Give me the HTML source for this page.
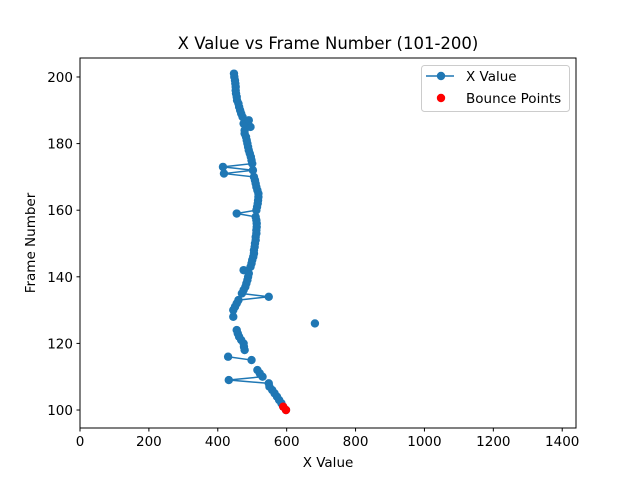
<!DOCTYPE html>
<html><head><meta charset="utf-8"><style>
body{margin:0;background:#fff}
svg text{font-family:"DejaVu Sans","Liberation Sans",sans-serif;fill:#000}
</style></head><body>
<svg width="640" height="480">
<g id="plot"></g>
</svg>
<script>
const frames=[100,101,102,103,104,105,106,107,108,109,110,111,112,113,114,115,116,117,118,119,120,121,122,123,124,125,126,127,128,130,131,132,133,134,135,136,137,138,139,140,141,142,143,144,145,146,147,148,149,150,151,152,153,154,155,156,157,158,159,160,161,162,163,164,165,166,167,168,169,170,171,172,173,174,175,176,177,178,179,180,181,182,183,184,185,186,187,188,189,190,191,192,193,194,195,196,197,198,199,200,201];
const xs=[598,590,585,578,572,565,558,550,548,432,530,522,515,null,null,498,430,null,478,476,475,468,462,458,455,null,682,null,445,445,450,455,460,548,470,475,480,483,486,488,490,475,495,498,500,503,505,505,507,508,510,510,512,512,513,513,512,510,455,512,514,516,517,518,518,515,512,510,508,505,418,502,415,500,498,496,493,490,488,486,484,482,478,478,495,475,490,472,468,465,462,460,456,455,453,452,452,451,450,448,447];
const bounceFrames=[100,101];
const bounceXs=[598,590];
const xTicks=[0,200,400,600,800,1000,1200,1400];
const yTicks=[100,120,140,160,180,200];
const L=80,R=576,T=58,B=428,X0=0,X1=1440,Y0=94.6,Y1=205.7;
const sx=v=>L+(v-X0)/(X1-X0)*(R-L);
const sy=v=>B-(v-Y0)/(Y1-Y0)*(B-T);
const NS="http://www.w3.org/2000/svg";
const g=document.getElementById('plot');
function mk(t,a,txt){const e=document.createElementNS(NS,t);for(const k in a)e.setAttribute(k,a[k]);if(txt!==undefined)e.textContent=txt;g.appendChild(e);return e;}
let d='',pen=false;
frames.forEach((f,i)=>{if(xs[i]===null){pen=false;return;}d+=(pen?'L':'M')+sx(xs[i])+','+sy(f);pen=true;});
let ln=mk('path',{d:d,fill:'none',stroke:'#1f77b4','stroke-width':1.5});


frames.forEach((f,i)=>{if(xs[i]===null)return;const c=mk('circle',{cx:sx(xs[i]),cy:sy(f),r:4.2,fill:'#1f77b4'});

});
bounceFrames.forEach((f,i)=>{const c=mk('circle',{cx:sx(bounceXs[i]),cy:sy(f),r:4.2,fill:'red'});

});
let fr=mk('rect',{x:L,y:T,width:R-L,height:B-T,fill:'none',stroke:'#000','stroke-width':1});


xTicks.forEach(v=>{mk('line',{x1:sx(v),x2:sx(v),y1:B,y2:B+3.5,stroke:'#000'});
const t=mk('text',{x:sx(v),y:B+18,'text-anchor':'middle','font-size':13.5},v);

});
yTicks.forEach(v=>{mk('line',{x1:L-3.5,x2:L,y1:sy(v),y2:sy(v),stroke:'#000'});
const t=mk('text',{x:L-7,y:sy(v)+5,'text-anchor':'end','font-size':13.5},v);

});
let tt=mk('text',{x:328,y:49,'text-anchor':'middle','font-size':16.5},'X Value vs Frame Number (101-200)');


let xt=mk('text',{x:328,y:467,'text-anchor':'middle','font-size':13.5},'X Value');


let yt=mk('text',{x:0,y:0,'text-anchor':'middle','font-size':13.5,transform:'translate(35,243) rotate(-90)'},'Frame Number');


let lg=mk('rect',{x:421.5,y:65.5,width:148,height:46,rx:3,fill:'#fff',stroke:'#ccc'});


mk('line',{x1:426,x2:454,y1:76,y2:76,stroke:'#1f77b4','stroke-width':1.5});
mk('circle',{cx:441,cy:76,r:4.2,fill:'#1f77b4'});
let l1=mk('text',{x:466,y:81,'font-size':13.5},'X Value');


mk('circle',{cx:441,cy:98,r:4.2,fill:'red'});
let l2=mk('text',{x:466,y:103,'font-size':13.5},'Bounce Points');


</script>
</body></html>
